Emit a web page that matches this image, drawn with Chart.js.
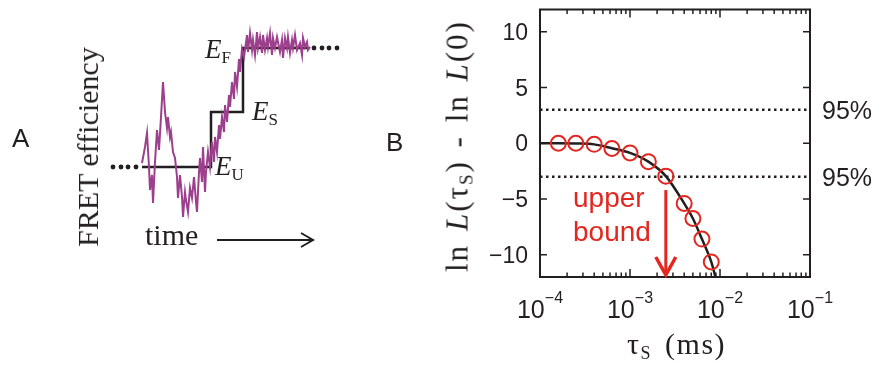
<!DOCTYPE html>
<html>
<head>
<meta charset="utf-8">
<script src="https://cdn.jsdelivr.net/npm/chart.js@4.4.1/dist/chart.umd.min.js"></script>
<style>
body { margin: 0; background: #fff; }
#wrap { position: relative; width: 882px; height: 369px; overflow: hidden; }
canvas { position: absolute; left: 0; top: 0; }
.t { position: absolute; white-space: nowrap; line-height: 1; color: #231f20; }
.sans { font-family: "Liberation Sans", Arial, sans-serif; }
.serif { font-family: "Liberation Serif", "Times New Roman", serif; }
.rot { transform: translate(-50%, -50%) rotate(-90deg); }
.sub { font-size: 17px; position: relative; top: 5px; font-style: normal; }
</style>
</head>
<body>
<div id="wrap">
  <canvas id="cA" width="882" height="369"></canvas>
  <canvas id="cB" width="882" height="369"></canvas>

  <div class="t sans" style="left:12px;top:125px;font-size:26px;">A</div>
  <div class="t sans" style="left:386px;top:129px;font-size:26px;">B</div>

  <div class="t serif rot" style="left:88px;top:147px;font-size:30px;">FRET efficiency</div>
  <div class="t serif" style="left:145px;top:220px;font-size:30px;">time</div>
  <div class="t serif" style="left:205px;top:36px;font-size:27px;"><i>E</i><span class="sub">F</span></div>
  <div class="t serif" style="left:252px;top:98px;font-size:27px;"><i>E</i><span class="sub">S</span></div>
  <div class="t serif" style="left:215px;top:153px;font-size:27px;"><i>E</i><span class="sub">U</span></div>

  <div class="t serif rot" style="left:457px;top:146px;font-size:31px;letter-spacing:2px;word-spacing:3px;">ln <i>L</i>(τ<span class="sub" style="font-size:19px;">S</span>) - ln <i>L</i>(0)</div>
  <div class="t serif" style="left:627px;top:329px;font-size:30px;letter-spacing:1.5px;word-spacing:4px;">τ<span class="sub" style="font-size:18px;">S</span> (ms)</div>

  <div class="t sans" style="left:573px;top:184px;font-size:28px;color:#e3261f;">upper</div>
  <div class="t sans" style="left:573px;top:218px;font-size:28px;color:#e3261f;">bound</div>
</div>

<script>
// Panel A - schematic trace (arbitrary time / efficiency units)
const traceTime = [0, 3, 5, 7, 8, 10, 11, 13, 15, 17, 19, 21, 23, 25, 26, 28, 29, 31, 33, 35,
  36, 38, 40, 41, 43, 44, 46, 48, 50, 52, 54, 55, 57, 58, 60, 61, 63, 64, 66, 68,
  70, 72, 73, 75, 77, 78, 80, 82, 83, 85, 87, 88, 90, 92, 93, 95, 97, 98, 100, 102, 104,
  105, 106, 108, 110, 111, 113, 115, 116, 118, 120, 121, 123, 125, 126, 128, 130, 131, 133, 135,
  138, 140, 141, 143, 145, 146, 148, 150, 151, 153, 155, 158, 160, 161, 163, 165, 166, 168];
const traceEff = [4, 20, 34, 0, -23, -8, -36, 5, 37, 17, 50, 85, 55, 39, 50, 30, 35, 15, 9, -10,
  -31, -8, -30, -50, -25, -33, -45, -21, -31, -10, -35, -45, -5, 9, -15, 20, -25, -5, 15, 0,
  25, 5, 30, 15, 42, 28, 50, 35, 62, 45, 72, 60, 85, 68, 95, 80, 108, 95, 118, 110, 124,
  132, 115, 134, 117, 127, 112, 135, 119, 130, 114, 132, 117, 129, 120, 134, 112, 129, 119, 130,
  115, 127, 109, 129, 119, 130, 114, 127, 119, 132, 117, 124, 112, 129, 120, 125, 117, 120];
const stepTime = [0, 69, 69, 101, 101, 168];
const stepEff = [0, 0, 55, 55, 119, 119];
const dotsLeftTime = [-29, -21, -14, -6];
const dotsRightTime = [172, 180, 187, 195];
const levelU = 0;
const levelF = 119;
const timeArrow = [75, 171];
const timeArrowLevel = -73;

// Panel B - likelihood ratio vs tau_S
const tauPoints = [1.6e-4, 2.5e-4, 4e-4, 6.3e-4, 1e-3, 1.6e-3, 2.5e-3, 4e-3, 5e-3, 6.3e-3, 8e-3];
const logLPoints = [0, 0, -0.1, -0.47, -0.87, -1.65, -2.95, -5.4, -6.75, -8.6, -10.65];
const tauCurve = [1e-4, 1.6e-4, 2.5e-4, 4e-4, 6.3e-4, 1e-3, 1.6e-3, 2.5e-3, 4e-3, 5e-3, 6.3e-3, 8e-3, 8.9e-3];
const logLCurve = [0, 0, -0.02, -0.1, -0.45, -0.87, -1.65, -2.95, -5.4, -6.75, -8.6, -10.65, -12];
const thresholds = [3, -3];
const thresholdLabel = '95%';
const xTicks = [1e-4, 1e-3, 1e-2, 1e-1];
const xTickExp = ['\u22124', '\u22123', '\u22122', '\u22121'];
const yTicks = [10, 5, 0, -5, -10];
const upperBoundTau = 2.5e-3;
const upperBoundFrom = -4.2;

const ink = '#231f20';
const red = '#e3261f';

function pts(xs, ys) {
    return xs.map((x, i) => ({ x: x, y: ys[i] }));
}

const noUi = {
    responsive: false,
    animation: false,
    events: [],
    plugins: { legend: { display: false }, tooltip: { enabled: false } }
};

// time arrow under panel A
const timeArrowPlugin = {
    id: 'timeArrow',
    afterDraw(chart) {
        const { ctx, scales } = chart;
        const x0 = scales.x.getPixelForValue(timeArrow[0]);
        const x1 = scales.x.getPixelForValue(timeArrow[1]);
        const y = scales.y.getPixelForValue(timeArrowLevel);
        ctx.save();
        ctx.strokeStyle = ink;
        ctx.lineWidth = 2;
        ctx.beginPath();
        ctx.moveTo(x0, y);
        ctx.lineTo(x1, y);
        ctx.moveTo(x1 - 12, y - 7);
        ctx.lineTo(x1, y);
        ctx.lineTo(x1 - 12, y + 7);
        ctx.stroke();
        ctx.restore();
    }
};

const chartA = new Chart(document.getElementById('cA'), {
    type: 'line',
    data: {
        datasets: [{
            data: pts(traceTime, traceEff),
            borderColor: '#9c3f8c',
            borderWidth: 2,
            pointRadius: 0,
            tension: 0
        }, {
            data: pts(stepTime, stepEff),
            borderColor: ink,
            borderWidth: 2.5,
            pointRadius: 0,
            tension: 0
        }, {
            data: dotsLeftTime.map(t => ({ x: t, y: levelU })),
            showLine: false,
            pointRadius: 2.4,
            pointBorderWidth: 0,
            pointBackgroundColor: ink
        }, {
            data: dotsRightTime.map(t => ({ x: t, y: levelF })),
            showLine: false,
            pointRadius: 2.4,
            pointBorderWidth: 0,
            pointBackgroundColor: ink
        }]
    },
    options: {
        ...noUi,
        layout: { padding: { left: 100, right: 532, top: 20, bottom: 109 } },
        scales: {
            x: { type: 'linear', display: false, min: -42, max: 208 },
            y: { type: 'linear', display: false, min: -93, max: 147 }
        }
    },
    plugins: [timeArrowPlugin]
});

// box, inward ticks and the red arrow for panel B
const boxPlugin = {
    id: 'box',
    afterDraw(chart) {
        const { ctx, chartArea: a, scales } = chart;
        ctx.save();
        ctx.strokeStyle = ink;
        ctx.lineWidth = 2;
        ctx.strokeRect(a.left, a.top, a.right - a.left, a.bottom - a.top);

        ctx.lineWidth = 1.5;
        ctx.beginPath();
        for (let d = -4; d <= -1; d++) {
            for (let m = 1; m <= 9; m++) {
                const v = m * Math.pow(10, d);
                if (v > 0.1 + 1e-9) break;
                const x = scales.x.getPixelForValue(v);
                const len = m === 1 ? 8 : 4.5;
                ctx.moveTo(x, a.bottom);
                ctx.lineTo(x, a.bottom - len);
                ctx.moveTo(x, a.top);
                ctx.lineTo(x, a.top + len);
            }
        }
        yTicks.forEach(v => {
            const y = scales.y.getPixelForValue(v);
            ctx.moveTo(a.left, y);
            ctx.lineTo(a.left + 7, y);
            ctx.moveTo(a.right, y);
            ctx.lineTo(a.right - 7, y);
        });
        ctx.stroke();

        // upper bound arrow
        const ax = scales.x.getPixelForValue(upperBoundTau);
        const ay = scales.y.getPixelForValue(upperBoundFrom);
        ctx.strokeStyle = red;
        ctx.lineWidth = 3;
        ctx.beginPath();
        ctx.moveTo(ax, ay);
        ctx.lineTo(ax, a.bottom - 2);
        ctx.stroke();
        ctx.lineWidth = 3.5;
        ctx.beginPath();
        ctx.moveTo(ax - 10, a.bottom - 20);
        ctx.lineTo(ax, a.bottom - 2);
        ctx.lineTo(ax + 10, a.bottom - 20);
        ctx.stroke();
        ctx.restore();
    }
};

const chartB = new Chart(document.getElementById('cB'), {
    type: 'line',
    data: {
        datasets: [{
            label: 'points',
            data: pts(tauPoints, logLPoints),
            showLine: false,
            pointRadius: 7.5,
            pointBorderWidth: 2,
            pointBorderColor: red,
            pointBackgroundColor: 'rgba(0,0,0,0)'
        }, {
            label: 'fit',
            data: pts(tauCurve, logLCurve),
            borderColor: ink,
            borderWidth: 2.5,
            pointRadius: 0,
            cubicInterpolationMode: 'monotone'
        }].concat(thresholds.map(v => ({
            label: thresholdLabel,
            data: [{ x: xTicks[0], y: v }, { x: xTicks[xTicks.length - 1], y: v }],
            borderColor: ink,
            borderWidth: 2.5,
            borderDash: [2.5, 3.5],
            pointRadius: 0
        })))
    },
    options: {
        ...noUi,
        layout: { padding: { left: 540, right: 72, top: 8, bottom: 92 } },
        scales: {
            x: { type: 'logarithmic', display: false, min: 1e-4, max: 1e-1 },
            y: { type: 'linear', display: false, min: -12, max: 12 }
        }
    },
    plugins: [boxPlugin]
});

// tick labels and 95% labels as real text
const wrap = document.getElementById('wrap');
function addText(html, style, cls) {
    const d = document.createElement('div');
    d.className = 't ' + (cls || 'sans');
    d.innerHTML = html;
    Object.assign(d.style, style);
    wrap.appendChild(d);
}
const sx = chartB.scales.x, sy = chartB.scales.y;
xTicks.forEach((v, i) => {
    addText('10<span style="font-size:16px;position:relative;top:-15px;">' + xTickExp[i] + '</span>', {
        left: sx.getPixelForValue(v) + 'px', top: '297px', fontSize: '25px', transform: 'translateX(-50%)'
    });
});
yTicks.forEach(v => {
    addText(String(v).replace('-', '\u2212'), {
        left: '528px', top: sy.getPixelForValue(v) + 'px', fontSize: '23px', transform: 'translate(-100%, -50%)'
    });
});
thresholds.forEach(v => {
    addText(thresholdLabel, {
        left: '822px', top: sy.getPixelForValue(v) + 'px', fontSize: '25px', transform: 'translateY(-50%)'
    });
});
</script>
</body>
</html>
